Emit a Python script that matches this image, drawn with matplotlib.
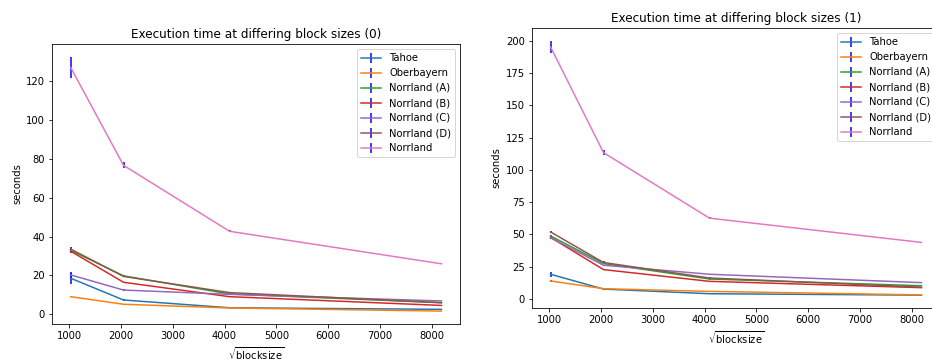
import matplotlib
matplotlib.use('Agg')
import matplotlib.pyplot as plt

# block sizes (x axis)
block_sizes = [1024, 2048, 4096, 8192]
labels = ['Tahoe', 'Oberbayern', 'Norrland (A)', 'Norrland (B)',
          'Norrland (C)', 'Norrland (D)', 'Norrland']

# run 0: mean seconds per dataset
means_0 = [
    [18.6, 7.4, 3.4, 2.6],
    [9.1, 5.2, 3.3, 1.7],
    [33.0, 19.8, 10.5, 6.0],
    [32.5, 16.5, 9.1, 4.6],
    [20.3, 12.5, 10.3, 6.9],
    [33.6, 19.5, 11.2, 6.0],
    [127.0, 76.6, 42.7, 26.0],
]
errs_0 = [
    [2.8, 0.3, 0.2, 0.1],
    [0.3, 0.2, 0.1, 0.1],
    [0.8, 0.3, 0.3, 0.2],
    [0.8, 0.3, 0.3, 0.2],
    [1.5, 0.3, 0.3, 0.2],
    [0.8, 0.3, 0.3, 0.2],
    [5.4, 1.5, 0.5, 0.3],
]

# run 1
means_1 = [
    [19.0, 7.5, 3.9, 2.8],
    [13.8, 7.8, 5.7, 3.0],
    [48.7, 27.3, 15.3, 10.1],
    [47.6, 22.6, 13.5, 8.6],
    [47.3, 26.0, 19.0, 12.5],
    [51.8, 28.1, 16.1, 9.0],
    [195.3, 113.3, 62.5, 43.7],
]
errs_1 = [
    [2.0, 0.3, 0.2, 0.1],
    [1.0, 0.3, 0.2, 0.1],
    [1.0, 0.5, 0.5, 0.3],
    [1.0, 0.5, 0.5, 0.3],
    [1.0, 0.5, 0.5, 0.3],
    [1.0, 1.0, 1.0, 0.3],
    [4.8, 2.0, 1.0, 0.3],
]

dpi = 72
fig = plt.figure(figsize=(932 / dpi, 362 / dpi), dpi=dpi)
W, H = 932, 362
ax0 = fig.add_axes([52 / W, (H - 324) / H, 408 / W, 280 / H])
ax1 = fig.add_axes([532 / W, (H - 308) / H, 408 / W, 280 / H])

for i, (ax, means, errs) in enumerate([(ax0, means_0, errs_0), (ax1, means_1, errs_1)]):
    for name, m, e in zip(labels, means, errs):
        ax.errorbar(block_sizes, m, yerr=e, ecolor='blue', label=name)
    ax.set_title(f'Execution time at differing block sizes ({i})')
    ax.set_xlabel(r'$\sqrt{\rm blocksize}$')
    ax.set_ylabel('seconds')
    ax.legend(loc='upper right')

fig.savefig('out.png', dpi=dpi)
